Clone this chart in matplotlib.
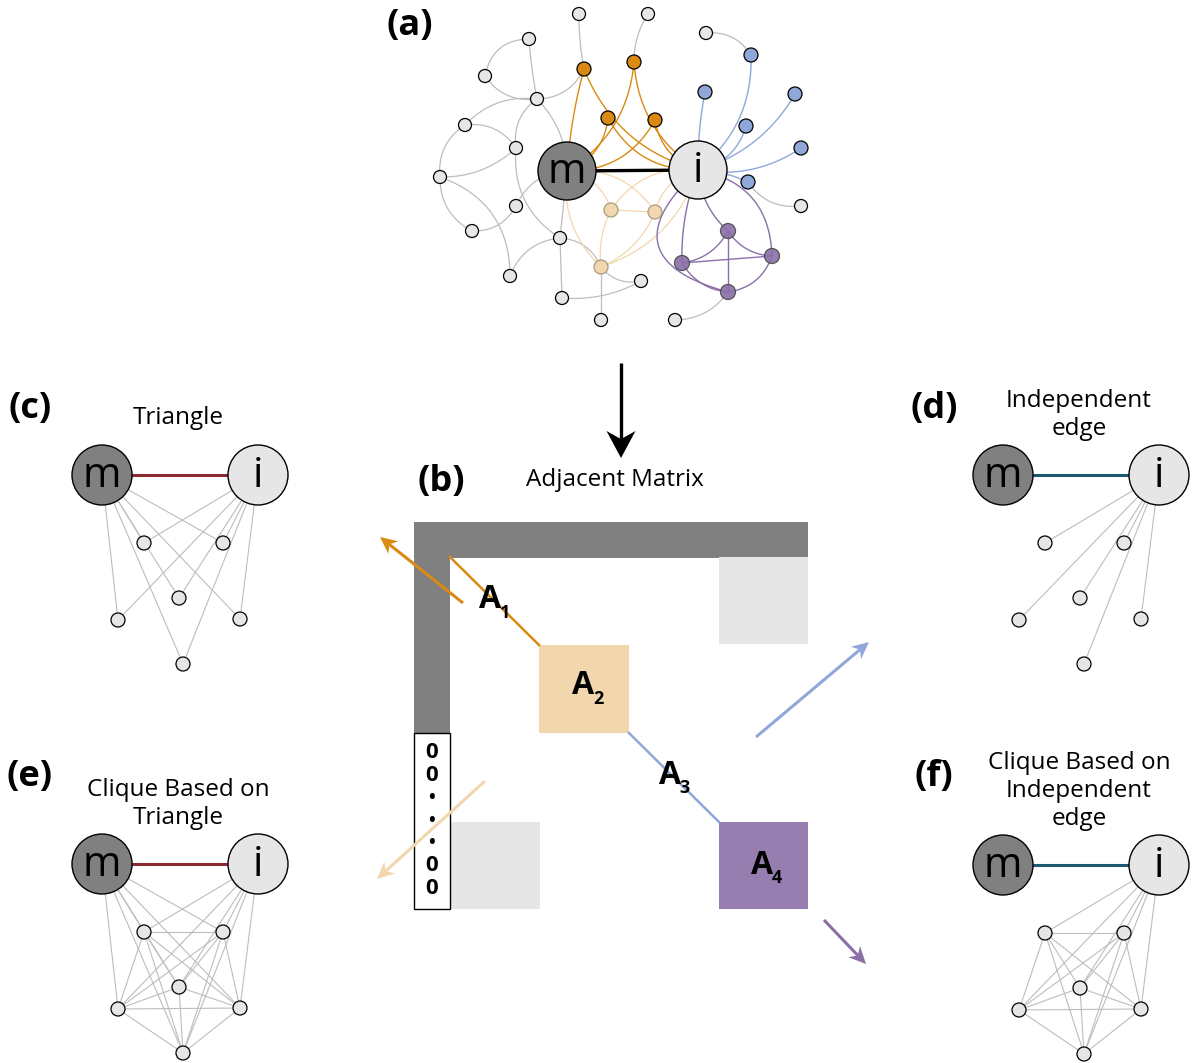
"""Ego-network motif figure: network, adjacency matrix and four motif panels."""

from itertools import combinations

import matplotlib

matplotlib.use("Agg")
import matplotlib.pyplot as plt
import numpy as np
from matplotlib.patches import Circle, Polygon, Rectangle

W, H = 1195, 1063
FONT = ["Open Sans", "DejaVu Sans"]

# ---- panel (a): node layout (pixel coordinates) ----
HUB_M = (567, 171)
HUB_I = (698, 170)
GRAY_NODES = [(579, 14), (648, 14), (706, 33), (529, 39), (485, 76), (537, 99),
              (465, 125), (516, 148), (440, 177), (516, 206), (472, 231), (560, 238),
              (510, 276), (641, 281), (562, 298), (601, 320), (675, 320), (801, 206)]
ORANGE_NODES = [(584, 69), (634, 62), (608, 118), (655, 120)]
PALE_NODES = [(611, 210), (655, 212), (601, 267)]
BLUE_NODES = [(751, 55), (705, 92), (795, 94), (746, 126), (801, 148), (748, 182)]
PURPLE_NODES = [(728, 231), (772, 256), (682, 263), (728, 292)]

# (from, to, curvature)
GRAY_EDGES = [("g0", "o0", 0.05), ("g1", "o1", 0.15), ("g2", "b0", -0.3),
              ("g3", "g5", 0.03), ("g4", "g3", -0.4), ("g4", "g5", 0.3),
              ("g5", "o0", 0.3), ("g5", "g6", 0.25), ("g5", "g7", 0.3),
              ("g5", "M", -0.2), ("g6", "g7", -0.3), ("g6", "g8", 0.3),
              ("g8", "g7", 0.2), ("g8", "g10", 0.3), ("g8", "g12", -0.35),
              ("g7", "g11", 0.3), ("g9", "g10", -0.3), ("g9", "M", -0.3),
              ("g11", "M", 0.0), ("g11", "g12", 0.3), ("g11", "g14", 0.0),
              ("g11", "p_2", -0.3), ("p_2", "g13", 0.3), ("g14", "g13", 0.15),
              ("p_2", "g15", 0.0), ("g16", "u3", 0.25), ("b5", "g17", 0.3)]
ORANGE_EDGES = [("o0", "M", 0.05), ("o0", "I", 0.25), ("o1", "M", -0.25), ("o1", "I", 0.25),
                ("o2", "M", -0.3), ("o2", "I", 0.3), ("o3", "M", -0.3), ("o3", "I", 0.3)]
PALE_EDGES = [("p_0", "M", 0.3), ("p_0", "I", -0.3), ("p_1", "M", 0.3), ("p_1", "I", -0.3),
              ("p_0", "p_1", 0.0), ("p_2", "M", -0.25), ("p_2", "I", 0.25),
              ("p_2", "p_0", -0.15), ("p_2", "p_1", 0.2)]
BLUE_EDGES = [("b0", "I", -0.25), ("b1", "I", 0.05), ("b2", "I", -0.2),
              ("b3", "I", -0.3), ("b4", "I", -0.2), ("b5", "I", 0.1)]
PURPLE_EDGES = [("u0", "I", -0.2), ("u1", "I", 0.4), ("u2", "I", -0.1), ("u3", "I", -0.9),
                ("u0", "u1", 0.25), ("u0", "u2", -0.25), ("u0", "u3", 0.0),
                ("u2", "u1", 0.0), ("u2", "u3", 0.25), ("u1", "u3", -0.3)]

# ---- motif panels: small node offsets relative to hub m ----
MOTIF_OFFSETS = [(42, 68), (121, 68), (77, 123), (16, 145), (138, 144), (81, 189)]
HUB_GAP = 156
PANELS = {
    "c": dict(origin=(102, 475), to_m=True, clique=False, title="Triangle", ty=418),
    "d": dict(origin=(1003, 475), to_m=False, clique=False, title="Independent\nedge", ty=415),
    "e": dict(origin=(102, 864), to_m=True, clique=True, title="Clique Based on\nTriangle", ty=804),
    "f": dict(origin=(1003, 865), to_m=False, clique=True,
              title="Clique Based on\nIndependent\nedge", ty=791),
}
PANEL_LABELS = {"a": (410, 26), "b": (441, 482), "c": (30, 409), "d": (934, 409),
                "e": (30, 777), "f": (934, 777)}

# ---- adjacency matrix blocks ----
BLOCK_LABELS = ["1", "2", "3", "4"]
BLOCK_TEXT_POS = [(490, 600), (583, 686), (670, 775), (762, 865)]
ZERO_COLUMN = ["0", "0", "•", "•", "•", "0", "0"]

C_GRAY_EDGE = "#bdbdbd"
C_ORANGE = "#d98a12"
C_PALE = "#f2d7ae"
C_BLUE = "#8fa8d9"
C_PURPLE = "#8a6fa8"
C_M = "#808080"
C_LIGHT = "#e6e6e6"


def bezier(p, q, rad, n=50):
    p = np.asarray(p, float)
    q = np.asarray(q, float)
    d = q - p
    c = (p + q) / 2 + rad * np.array([-d[1], d[0]])
    t = np.linspace(0, 1, n)[:, None]
    return (1 - t) ** 2 * p + 2 * (1 - t) * t * c + t ** 2 * q


def stealth(ax, start, end, color, lw, head_len, head_w, notch=0.3):
    s = np.asarray(start, float)
    e = np.asarray(end, float)
    u = (e - s) / np.hypot(*(e - s))
    n = np.array([-u[1], u[0]])
    base = e - u * head_len
    back = e - u * head_len * (1 - notch)
    ax.plot([s[0], back[0]], [s[1], back[1]], color=color, lw=lw,
            solid_capstyle="butt", zorder=5)
    ax.add_patch(Polygon([e, base + n * head_w / 2, back, base - n * head_w / 2],
                         closed=True, facecolor=color, edgecolor="none", zorder=6))


def hub(ax, xy, name, fill, r=29):
    ax.add_patch(Circle(xy, r, facecolor=fill, edgecolor="black", lw=1.0, zorder=3))
    ax.text(xy[0], xy[1] + 1, name, ha="center", va="center", fontsize=30,
            family=FONT, zorder=4)


def node(ax, xy, fill, r=6.5, edge="black", alpha=1.0):
    ax.add_patch(Circle(xy, r, facecolor=fill, edgecolor=edge, lw=0.9,
                        alpha=alpha, zorder=4))


fig = plt.figure(figsize=(W / 100, H / 100), dpi=100)
ax = fig.add_axes([0, 0, 1, 1])
ax.set_xlim(0, W)
ax.set_ylim(H, 0)
ax.axis("off")

# ---------------- panel (a) ----------------
pos = {"M": HUB_M, "I": HUB_I}
pos.update({f"g{k}": p for k, p in enumerate(GRAY_NODES)})
pos.update({f"o{k}": p for k, p in enumerate(ORANGE_NODES)})
pos.update({f"p_{k}": p for k, p in enumerate(PALE_NODES)})
pos.update({f"b{k}": p for k, p in enumerate(BLUE_NODES)})
pos.update({f"u{k}": p for k, p in enumerate(PURPLE_NODES)})

for edges, color, lw in [(GRAY_EDGES, C_GRAY_EDGE, 0.9), (PALE_EDGES, C_PALE, 0.9),
                         (ORANGE_EDGES, C_ORANGE, 1.0), (BLUE_EDGES, C_BLUE, 1.0),
                         (PURPLE_EDGES, C_PURPLE, 1.0)]:
    for a, b, rad in edges:
        pts = bezier(pos[a], pos[b], rad)
        ax.plot(pts[:, 0], pts[:, 1], color=color, lw=lw, zorder=1)

ax.plot([HUB_M[0], HUB_I[0]], [HUB_M[1], HUB_I[1]], color="black", lw=2.4, zorder=2)
hub(ax, HUB_M, "m", C_M)
hub(ax, HUB_I, "i", C_LIGHT)
for p in GRAY_NODES:
    node(ax, p, C_LIGHT)
for p in ORANGE_NODES:
    node(ax, p, C_ORANGE, r=7)
for p in PALE_NODES:
    node(ax, p, C_PALE, r=7, edge="#a89a84")
for p in BLUE_NODES:
    node(ax, p, C_BLUE, r=7)
for p in PURPLE_NODES:
    node(ax, p, C_PURPLE, r=7.5, edge="#4a4a4a", alpha=0.9)

# arrow from network to matrix
stealth(ax, (621, 363), (621, 458), "black", 2.4, 27, 29, notch=0.3)
ax.text(615, 480, "Adjacent Matrix", ha="center", va="center", fontsize=17.5, family=FONT)

# ---------------- panel (b) ----------------
ax.add_patch(Rectangle((414, 522), 394, 36, facecolor=C_M, edgecolor="none", zorder=1))
ax.add_patch(Rectangle((414, 522), 36, 211, facecolor=C_M, edgecolor="none", zorder=1))
ax.add_patch(Rectangle((414.5, 733), 35.5, 176, facecolor="white", edgecolor="black",
                       lw=1.0, zorder=2))
ax.add_patch(Rectangle((719, 557), 89, 87, facecolor=C_LIGHT, edgecolor="none", zorder=1))
ax.add_patch(Rectangle((450, 822), 90, 87, facecolor=C_LIGHT, edgecolor="none", zorder=1))
ax.add_patch(Rectangle((539, 645), 90, 88, facecolor=C_PALE, edgecolor="none", zorder=1))
ax.add_patch(Rectangle((719, 822), 89, 87, facecolor="#967fb0", edgecolor="none", zorder=1))

for k, ch in enumerate(ZERO_COLUMN):
    y = 753 + k * 22.5
    ax.text(432, y, ch, ha="center", va="center", fontsize=16 if ch == "0" else 13,
            fontweight="bold", family=FONT, zorder=7)

ax.plot([450, 539], [557, 645], color=C_ORANGE, lw=1.8, zorder=2)
ax.plot([629, 719], [733, 822], color=C_BLUE, lw=1.8, zorder=2)

for sub, (x, y) in zip(BLOCK_LABELS, BLOCK_TEXT_POS):
    ax.text(x, y, "A", ha="center", va="center", fontsize=23, fontweight="bold",
            family=FONT, zorder=7)
    ax.text(x + 15, y + 13, sub, ha="center", va="center", fontsize=13,
            fontweight="bold", family=FONT, zorder=7)

stealth(ax, (463, 603), (380, 537), C_ORANGE, 2.2, 17, 16)
stealth(ax, (756, 737), (869, 642), C_BLUE, 2.2, 17, 16)
stealth(ax, (485, 781), (377, 879), C_PALE, 2.2, 17, 16)
stealth(ax, (824, 920), (866, 964), C_PURPLE, 2.2, 17, 16)

# ---------------- motif panels (c)-(f) ----------------
for key, cfg in PANELS.items():
    mx, my = cfg["origin"]
    m_xy = (mx, my)
    i_xy = (mx + HUB_GAP, my)
    small = [(mx + dx, my + dy) for dx, dy in MOTIF_OFFSETS]
    for s in small:
        ax.plot([s[0], i_xy[0]], [s[1], i_xy[1]], color=C_GRAY_EDGE, lw=0.8, zorder=1)
        if cfg["to_m"]:
            ax.plot([s[0], m_xy[0]], [s[1], m_xy[1]], color=C_GRAY_EDGE, lw=0.8, zorder=1)
    if cfg["clique"]:
        for s, t in combinations(small, 2):
            ax.plot([s[0], t[0]], [s[1], t[1]], color=C_GRAY_EDGE, lw=0.8, zorder=1)
    link = "#8b2a33" if cfg["to_m"] else "#1d5a72"
    ax.plot([mx, i_xy[0]], [my, my], color=link, lw=2.2, zorder=2)
    hub(ax, m_xy, "m", C_M, r=30)
    hub(ax, i_xy, "i", C_LIGHT, r=30)
    for s in small:
        node(ax, s, C_LIGHT, r=7)
    ax.text(mx + HUB_GAP / 2 - 2, cfg["ty"], cfg["title"], ha="center", va="center",
            fontsize=17.5, family=FONT, linespacing=1.22)

for lab, (x, y) in PANEL_LABELS.items():
    ax.text(x, y, f"({lab})", ha="center", va="center", fontsize=26,
            fontweight="bold", family=FONT)

fig.savefig("out.png", dpi=100)
plt.close(fig)
